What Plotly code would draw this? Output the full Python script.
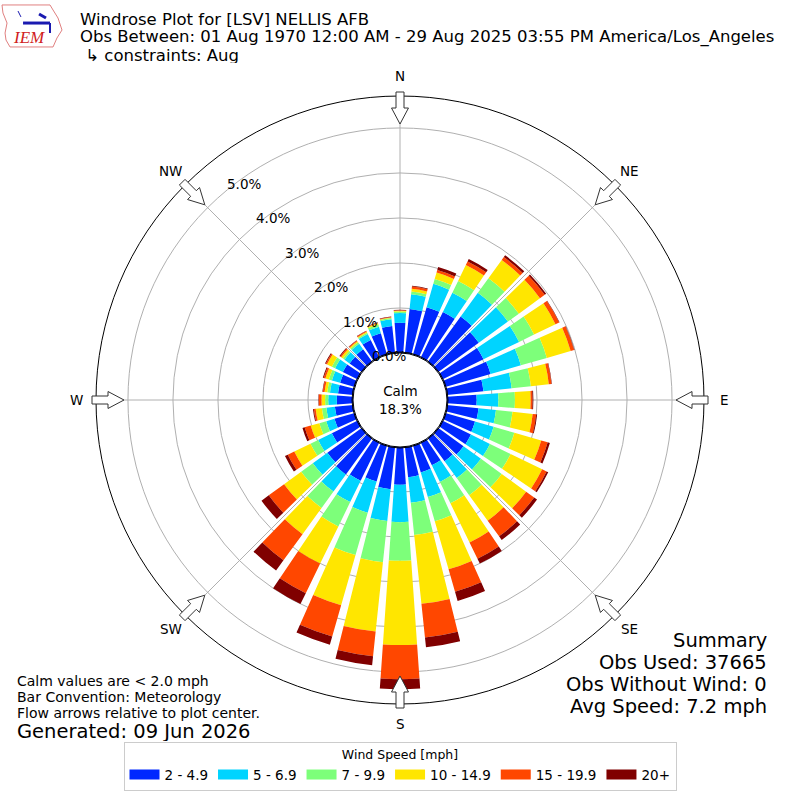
import numpy as np
import plotly.graph_objects as go

# wind direction bins (deg, meteorological) and frequency (%) per speed bin
directions = list(range(0, 360, 10))
speed_bins = ["2 - 4.9", "5 - 6.9", "7 - 9.9", "10 - 14.9", "15 - 19.9", "20+"]
colors = ["#0028ff", "#00d4ff", "#7dff7a", "#ffe600", "#ff4700", "#800000"]

freq_2_5 = [0.67, 0.99, 1.10, 1.13, 1.25, 1.12, 1.02, 1.05, 0.82, 0.66, 0.71, 0.69,
            0.71, 0.70, 0.64, 0.57, 0.63, 0.68, 0.84, 0.95, 0.84, 0.95, 1.00, 0.95,
            0.64, 0.47, 0.41, 0.36, 0.34, 0.34, 0.37, 0.34, 0.35, 0.44, 0.50, 0.61]
freq_5_7 = [0.22, 0.33, 0.54, 0.48, 0.65, 0.80, 0.88, 0.70, 0.63, 0.48, 0.39, 0.43,
            0.47, 0.48, 0.46, 0.41, 0.57, 0.57, 0.83, 0.71, 0.72, 0.53, 0.47, 0.40,
            0.34, 0.19, 0.19, 0.19, 0.18, 0.19, 0.19, 0.14, 0.15, 0.15, 0.15, 0.15]
freq_7_10 = [0.03, 0.06, 0.11, 0.29, 0.40, 0.30, 0.37, 0.60, 0.43, 0.37, 0.37, 0.48,
             0.51, 0.57, 0.47, 0.53, 0.56, 0.72, 0.86, 0.92, 0.98, 0.60, 0.45, 0.32,
             0.19, 0.16, 0.10, 0.07, 0.06, 0.07, 0.08, 0.04, 0.04, 0.03, 0.05, 0.03]
freq_10_15 = [0.02, 0.06, 0.15, 0.39, 0.50, 0.58, 0.53, 0.55, 0.40, 0.35, 0.45, 0.62,
              0.78, 0.67, 0.70, 0.97, 1.11, 1.54, 1.87, 1.55, 1.16, 0.92, 0.72, 0.47,
              0.40, 0.20, 0.14, 0.08, 0.06, 0.08, 0.12, 0.05, 0.03, 0.02, 0.03, 0.01]
freq_15_20 = [0.01, 0.05, 0.06, 0.09, 0.08, 0.13, 0.09, 0.08, 0.06, 0.04, 0.08, 0.15,
              0.11, 0.22, 0.43, 0.40, 0.52, 0.75, 0.76, 0.55, 0.72, 0.73, 0.72, 0.42,
              0.16, 0.14, 0.04, 0.06, 0.04, 0.04, 0.03, 0.03, 0.02, 0.02, 0.01, 0.01]
freq_20p = [0.01, 0.02, 0.07, 0.06, 0.05, 0.04, 0.01, 0.01, 0.01, 0.02, 0.02, 0.05,
            0.04, 0.08, 0.10, 0.12, 0.21, 0.22, 0.22, 0.20, 0.19, 0.27, 0.28, 0.20,
            0.07, 0.05, 0.02, 0.01, 0.01, 0.02, 0.02, 0.02, 0.01, 0.01, 0.01, 0.01]
series = [freq_2_5, freq_5_7, freq_7_10, freq_10_15, freq_15_20, freq_20p]

radial_ticks = [0, 1, 2, 3, 4, 5]
compass = ["N", "NE", "E", "SE", "S", "SW", "W", "NW"]
compass_deg = [0, 45, 90, 135, 180, 225, 270, 315]
calm_pct = 18.3

W = H = 800
CX, CY, R = 400, 400, 304
HOLE_PX = 47
RMAX = 5.71
PX_PER_PCT = (R - HOLE_PX) / RMAX


def px2paper(x, y):
    return x / W, 1 - y / H


def pix_path(pts, close=True):
    s = "M " + " L ".join("%.4f,%.4f" % px2paper(*pt) for pt in pts)
    return s + (" Z" if close else "")


fig = go.Figure()
for name, vals, col in zip(speed_bins, series, colors):
    fig.add_trace(go.Barpolar(r=vals, theta=directions, width=8, name=name, showlegend=False,
                              marker=dict(color=col, line=dict(width=0))))
# legend swatches (wide rectangles like the original)
for name, col in zip(speed_bins, colors):
    fig.add_trace(go.Scatterpolar(r=[None], theta=[None], mode="lines", name=name,
                                  line=dict(color=col, width=10), hoverinfo="skip"))

fig.update_layout(
    width=W, height=H, margin=dict(l=0, r=0, t=0, b=0),
    paper_bgcolor="white", plot_bgcolor="white",
    font=dict(family="DejaVu Sans", color="black"),
    polar=dict(
        domain=dict(x=[(CX - R) / W, (CX + R) / W], y=[(CY - R) / H, (CY + R) / H]),
        hole=HOLE_PX / R, bgcolor="white", barmode="stack",
        angularaxis=dict(direction="clockwise", rotation=90, tickvals=compass_deg,
                         showticklabels=False, ticks="", gridcolor="#b0b0b0",
                         showline=True, linecolor="black", linewidth=1),
        radialaxis=dict(range=[0, RMAX], tickvals=radial_ticks, showticklabels=False,
                        showline=False, ticks="", gridcolor="#b0b0b0"),
    ),
    legend=dict(orientation="h", x=0.5, xanchor="center", y=1 - 742 / H, yanchor="top",
                title=dict(text="Wind Speed [mph]", side="top center", font=dict(size=12.5)),
                font=dict(size=13.5), bordercolor="#cccccc", borderwidth=1,
                itemwidth=30, traceorder="normal"),
)

shapes = []
# calm circle
x0, y0 = px2paper(CX - 48, CY + 48)
x1, y1 = px2paper(CX + 48, CY - 48)
shapes.append(dict(type="circle", xref="paper", yref="paper", x0=x0, y0=y0, x1=x1, y1=y1,
                   line=dict(color="black", width=1), fillcolor="rgba(0,0,0,0)"))

# inward flow arrows on the compass points
arrow = [(308, -4), (292, -4), (292, -8.5), (276, 0), (292, 8.5), (292, 4), (308, 4)]
for d in compass_deg:
    t = np.radians(d)
    u = np.array([np.sin(t), -np.cos(t)])
    p = np.array([np.cos(t), np.sin(t)])
    pts = [np.array([CX, CY]) + a * u + b * p for a, b in arrow]
    shapes.append(dict(type="path", xref="paper", yref="paper", path=pix_path(pts),
                       fillcolor="white", line=dict(color="#333333", width=1)))

# rough IEM logo: Iowa outline plus the blue station symbol
iowa = [(2, 5), (50, 5), (53, 10), (58, 18), (62, 30), (57, 38), (53, 47),
        (10, 47), (6, 40), (5, 33), (7, 23), (3, 13)]
shapes.append(dict(type="path", xref="paper", yref="paper", path=pix_path(iowa),
                   line=dict(color="#e08080", width=1), fillcolor="white"))
shapes.append(dict(type="path", xref="paper", yref="paper",
                   path=pix_path([(23, 23), (50, 23)], close=False),
                   line=dict(color="#1a1ab0", width=3)))
shapes.append(dict(type="path", xref="paper", yref="paper",
                   path=pix_path([(50, 23), (50, 33)], close=False),
                   line=dict(color="#1a1ab0", width=2)))
shapes.append(dict(type="path", xref="paper", yref="paper",
                   path=pix_path([(39, 14), (46, 18)], close=False),
                   line=dict(color="#1a1ab0", width=3)))
shapes.append(dict(type="path", xref="paper", yref="paper",
                   path=pix_path([(18, 11), (21, 17)], close=False),
                   line=dict(color="#1a1ab0", width=1)))
fig.update_layout(shapes=shapes)

ann = []


def add_text(x, y, text, size, xanchor="left", yanchor="middle", color="black", height=None, **kw):
    px_, py_ = px2paper(x, y)
    a = dict(x=px_, y=py_, xref="paper", yref="paper", text=text, showarrow=False,
             xanchor=xanchor, yanchor=yanchor, font=dict(size=size, color=color, **kw))
    if height:
        a["height"] = height
    ann.append(a)


add_text(29, 37, "<i>IEM</i>", 17, xanchor="center", color="#d02020", family="Liberation Serif")
add_text(78, 19, "Windrose Plot for [LSV] NELLIS AFB", 16.5, height=16)
add_text(78, 37, "Obs Between: 01 Aug 1970 12:00 AM - 29 Aug 2025 03:55 PM America/Los_Angeles",
         16.5, height=20)
add_text(78, 55, " ↳ constraints: Aug", 16.5, height=16)

for lab, d in zip(compass, compass_deg):
    t = np.radians(d)
    add_text(CX + 324 * np.sin(t), CY - 324 * np.cos(t), lab, 13.5, xanchor="center")

# radial tick labels, placed along the 320 deg ray
for v in radial_ticks:
    rp = HOLE_PX + v * PX_PER_PCT
    t = np.radians(320)
    add_text(CX + rp * np.sin(t), CY - rp * np.cos(t) + 2, "%.1f%%" % v, 13.5,
             xanchor="left", yanchor="bottom")

add_text(CX, CY, "Calm<br>%.1f%%" % calm_pct, 13.5, xanchor="center")

add_text(15, 681, "Calm values are < 2.0 mph", 14, height=16)
add_text(15, 697, "Bar Convention: Meteorology", 14, height=16)
add_text(15, 713, "Flow arrows relative to plot center.", 14, height=16)
add_text(15, 731, "Generated: 09 Jun 2026", 19.5, height=20)

add_text(769, 640, "Summary", 19.5, xanchor="right", height=22)
add_text(769, 662, "Obs Used: 37665", 19.5, xanchor="right", height=22)
add_text(769, 684, "Obs Without Wind: 0", 19.5, xanchor="right", height=22)
add_text(769, 706, "Avg Speed: 7.2 mph", 19.5, xanchor="right", height=22)

fig.update_layout(annotations=ann)
fig.write_html("out.html", config={"displayModeBar": False},
               post_script="document.body.style.margin='0px';")
